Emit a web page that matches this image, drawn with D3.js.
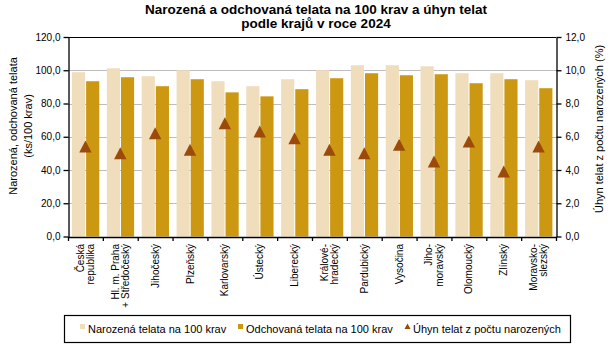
<!DOCTYPE html>
<html>
<head>
<meta charset="UTF-8">
<title>Narozená a odchovaná telata podle krajů 2024</title>
<script src="https://cdnjs.cloudflare.com/ajax/libs/d3/7.8.5/d3.min.js"></script>
<style>
	body { margin: 0; background: #fff; }
	svg text { font-family: Arial, "Liberation Sans", sans-serif; fill: #000; }
</style>
</head>
<body>
<script>
	// kraje (víceřádkové popisky jako pole řádků)
	var kraje = [
		["Česká", "republika"], ["Hl. m. Praha", "+ Středočeský"], ["Jihočeský"], ["Plzeňský"],
		["Karlovarský"], ["Ústecký"], ["Liberecký"], ["Králové-", "hradecký"], ["Pardubický"],
		["Vysočina"], ["Jiho-", "moravský"], ["Olomoucký"], ["Zlínský"], ["Moravsko-", "slezský"]
	];
	var narozena  = [98.8, 101.2, 96.4, 100.0, 93.4, 90.4, 94.6, 100.0, 103.0, 103.0, 102.4, 98.2, 98.2, 94.0];
	var odchovana = [93.4, 95.8, 90.4, 94.6, 86.7, 84.3, 88.6, 95.2, 98.2, 97.0, 97.6, 92.2, 94.6, 89.2];
	var uhyn      = [5.4, 5.0, 6.2, 5.2, 6.8, 6.3, 5.9, 5.2, 5.0, 5.5, 4.5, 5.7, 3.9, 5.4];
	var leveTicks  = [0, 20, 40, 60, 80, 100, 120];
	var praveTicks = [0, 2, 4, 6, 8, 10, 12];

	var barvy = { narozena: "#f0ddbb", odchovana: "#cc9711", uhyn: "#9b4a0a" };

	var W = 611, H = 347;
	var plot = { left: 68, right: 556, top: 37, bottom: 236.5 };

	var svg = d3.select("body").append("svg")
		.attr("width", W)
		.attr("height", H);

	var idx = d3.range(kraje.length);

	// scales
	var x = d3.scaleBand().domain(idx).range([plot.left, plot.right]).padding(0);
	var xi = d3.scaleBand().domain(["n", "o"]).range([4, x.bandwidth() - 3.6]).paddingInner(0.07);
	var xEdge = d3.scaleLinear().domain([0, kraje.length]).range([plot.left, plot.right]);
	var y = d3.scaleLinear().domain([0, 120]).range([plot.bottom, plot.top]);
	var y2 = d3.scaleLinear().domain([0, 12]).range([plot.bottom, plot.top]);

	var fmt = function(d) { return d.toFixed(1).replace(".", ","); };

	// title
	var title = svg.append("g").style("font-weight", "bold").style("font-size", "13.5px")
		.attr("text-anchor", "middle");
	title.append("text").attr("x", 316).attr("y", 14)
		.text("Narozená a odchovaná telata na 100 krav a úhyn telat");
	title.append("text").attr("x", 316).attr("y", 28)
		.text("podle krajů v roce 2024");

	// gridlines
	svg.append("g").selectAll("line")
		.data(leveTicks.filter(function(d) { return d > 0 && d < 120; }))
		.enter().append("line")
		.attr("x1", plot.left).attr("x2", plot.right)
		.attr("y1", function(d) { return Math.round(y(d)) + 0.5; })
		.attr("y2", function(d) { return Math.round(y(d)) + 0.5; })
		.attr("stroke", "#bdbdbd").attr("stroke-width", 1.2);

	// bars
	var skupiny = svg.append("g").selectAll("g")
		.data(idx)
		.enter().append("g")
		.attr("transform", function(i) { return "translate(" + x(i) + ",0)"; });

	skupiny.append("rect")
		.attr("x", xi("n")).attr("width", xi.bandwidth())
		.attr("y", function(i) { return y(narozena[i]); })
		.attr("height", function(i) { return y(0) - y(narozena[i]); })
		.attr("fill", barvy.narozena);

	skupiny.append("rect")
		.attr("x", xi("o")).attr("width", xi.bandwidth())
		.attr("y", function(i) { return y(odchovana[i]); })
		.attr("height", function(i) { return y(0) - y(odchovana[i]); })
		.attr("fill", barvy.odchovana);

	// triangles for losses (right axis)
	var troj = "M0,-6.2L6.2,5.8L-6.2,5.8Z";
	svg.append("g").selectAll("path")
		.data(idx)
		.enter().append("path")
		.attr("d", troj)
		.attr("transform", function(i) { return "translate(" + (x(i) + x.bandwidth() / 2) + "," + y2(uhyn[i]) + ")"; })
		.attr("fill", barvy.uhyn);

	// top frame line
	svg.append("line")
		.attr("x1", plot.left).attr("x2", plot.right)
		.attr("y1", plot.top + 0.5).attr("y2", plot.top + 0.5)
		.attr("stroke", "#000");

	// left axis
	var osaL = svg.append("g")
		.attr("transform", "translate(" + (plot.left + 0.5) + ",0)")
		.call(d3.axisLeft(y).tickValues(leveTicks).tickFormat(fmt).tickSize(5).tickSizeOuter(0).tickPadding(3));
	osaL.selectAll("text").style("font-size", "10px");

	// right axis
	var osaR = svg.append("g")
		.attr("transform", "translate(" + (plot.right + 0.5) + ",0)")
		.call(d3.axisRight(y2).tickValues(praveTicks).tickFormat(fmt).tickSize(5).tickSizeOuter(0).tickPadding(4));
	osaR.selectAll("text").style("font-size", "10px");

	// bottom axis with ticks between regions
	var osaX = svg.append("g")
		.attr("transform", "translate(0," + (plot.bottom + 0.5) + ")")
		.call(d3.axisBottom(xEdge).tickValues(d3.range(kraje.length + 1)).tickFormat("").tickSize(4).tickSizeOuter(0));

	[osaL, osaR, osaX].forEach(function(g) {
		g.selectAll("path, line").attr("stroke", "#000").attr("stroke-width", 1.3);
	});

	// region labels, rotated
	var popisky = svg.append("g").style("font-size", "10px");
	idx.forEach(function(i) {
		var cx = x(i) + x.bandwidth() / 2;
		var radky = kraje[i];
		radky.forEach(function(r, j) {
			var off = (j - (radky.length - 1) / 2) * 10.5;
			popisky.append("text")
				.attr("transform", "translate(" + (cx + off + 3.5) + ",244) rotate(-90)")
				.attr("text-anchor", "end")
				.text(r);
		});
	});

	// axis titles
	var titulL = svg.append("g").style("font-size", "11px")
		.attr("transform", "translate(0,126)");
	titulL.append("text").attr("transform", "translate(17,0) rotate(-90)")
		.attr("text-anchor", "middle").text("Narozená, odchovaná telata");
	titulL.append("text").attr("transform", "translate(32,0) rotate(-90)")
		.attr("text-anchor", "middle").text("(ks/100 krav)");

	svg.append("text").style("font-size", "11px")
		.attr("transform", "translate(603,129) rotate(-90)")
		.attr("text-anchor", "middle").text("Úhyn telat z počtu narozených (%)");

	// legend
	var leg = svg.append("g");
	leg.append("rect")
		.attr("x", 64.5).attr("y", 315.5).attr("width", 506).attr("height", 27)
		.attr("fill", "none").attr("stroke", "#000").attr("stroke-width", 1.2);

	var polozky = [
		{ x: 80, typ: "ctverec", barva: barvy.narozena, text: "Narozená telata na 100 krav" },
		{ x: 238, typ: "ctverec", barva: barvy.odchovana, text: "Odchovaná telata na 100 krav" },
		{ x: 405, typ: "troj", barva: barvy.uhyn, text: "Úhyn telat z počtu narozených" }
	];
	polozky.forEach(function(p) {
		if (p.typ === "ctverec") {
			leg.append("rect").attr("x", p.x).attr("y", 324).attr("width", 5).attr("height", 5).attr("fill", p.barva);
		} else {
			leg.append("path").attr("d", "M0,-3L3,2.5L-3,2.5Z")
				.attr("transform", "translate(" + (p.x + 2.5) + ",326.5)").attr("fill", p.barva);
		}
		leg.append("text").attr("x", p.x + 8).attr("y", 332.5)
			.style("font-size", "11px").text(p.text);
	});
</script>
</body>
</html>
